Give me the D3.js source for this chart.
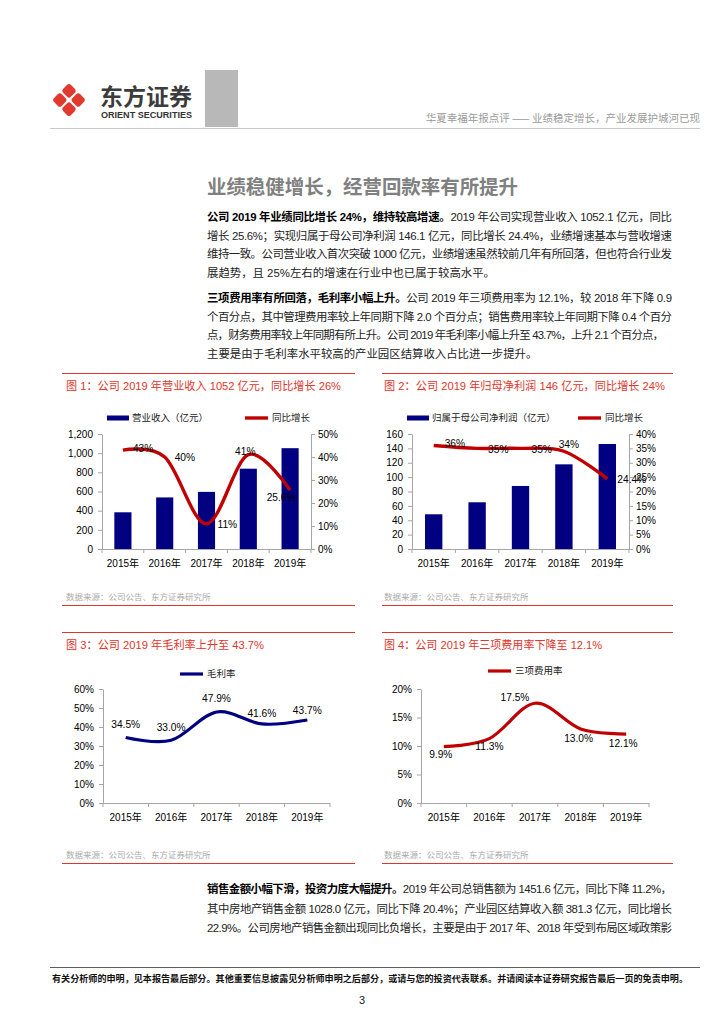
<!DOCTYPE html>
<html><head><meta charset="utf-8">
<script src="https://cdn.jsdelivr.net/npm/d3@7"></script>
<style>
html,body{margin:0;padding:0;background:#fff;}
svg{display:block;}
</style></head><body>
<svg id="page" width="724" height="1024"></svg>
<script>
// ---------- DATA ----------
const years = ["2015年", "2016年", "2017年", "2018年", "2019年"];
const revenue = [383, 538, 596, 838, 1052];
const revenueGrowth = [0.43, 0.40, 0.11, 0.41, 0.256];
const revenueGrowthLabels = ["43%", "40%", "11%", "41%", "25.6%"];
const netProfit = [48.3, 65.0, 87.7, 117.8, 146.1];
const profitGrowth = [0.36, 0.35, 0.35, 0.34, 0.244];
const profitGrowthLabels = ["36%", "35%", "35%", "34%", "24.4%"];
const grossMargin = [0.345, 0.330, 0.479, 0.416, 0.437];
const grossMarginLabels = ["34.5%", "33.0%", "47.9%", "41.6%", "43.7%"];
const expenseRatio = [0.099, 0.113, 0.175, 0.130, 0.121];
const expenseRatioLabels = ["9.9%", "11.3%", "17.5%", "13.0%", "12.1%"];
const revenueTicks = [0, 200, 400, 600, 800, 1000, 1200];
const revenueGrowthTicks = [0, 0.1, 0.2, 0.3, 0.4, 0.5];
const profitTicks = [0, 20, 40, 60, 80, 100, 120, 140, 160];
const profitGrowthTicks = [0, 0.05, 0.10, 0.15, 0.20, 0.25, 0.30, 0.35, 0.40];
const marginTicks = [0, 0.1, 0.2, 0.3, 0.4, 0.5, 0.6];
const expenseTicks = [0, 0.05, 0.10, 0.15, 0.20];

const chartTitles = [
  "图 1：公司 2019 年营业收入 1052 亿元，同比增长 26%",
  "图 2：公司 2019 年归母净利润 146 亿元，同比增长 24%",
  "图 3：公司 2019 年毛利率上升至 43.7%",
  "图 4：公司 2019 年三项费用率下降至 12.1%"
];
const sourceText = "数据来源：公司公告、东方证券研究所";

// ---------- STYLE ----------
const FONT = '"Liberation Sans","Noto Sans CJK SC",sans-serif';
const CJK = '"Noto Sans CJK SC","Liberation Sans",sans-serif';
const RED_T = "#e0352b";
const RED_L = "#c00000";
const NAVY = "#000080";
const AX = "#a6a6a6";

const svg = d3.select("#page");
svg.append("rect").attr("width", 724).attr("height", 1024).attr("fill", "#fff");

// ---------- HEADER ----------
const logo = svg.append("g").attr("transform", "translate(69,100)");
const d = 9.2, s = 11;
[[0, -d], [d, 0], [0, d], [-d, 0]].forEach(p => {
  logo.append("rect").attr("x", -s / 2).attr("y", -s / 2).attr("width", s).attr("height", s)
    .attr("rx", 2.6).attr("fill", "#e03a30")
    .attr("transform", `translate(${p[0]},${p[1]}) rotate(45)`);
});
svg.append("text").attr("x", 100).attr("y", 105).attr("font-family", CJK).attr("font-weight", "bold")
  .attr("font-size", 22.5).attr("fill", "#3c3c3c").attr("textLength", 92).attr("lengthAdjust", "spacingAndGlyphs")
  .text("东方证券");
svg.append("text").attr("x", 101).attr("y", 118).attr("font-family", FONT).attr("font-weight", "bold")
  .attr("font-size", 8.4).attr("fill", "#333").attr("textLength", 91).attr("lengthAdjust", "spacingAndGlyphs")
  .text("ORIENT SECURITIES");
svg.append("rect").attr("x", 205).attr("y", 70).attr("width", 33).attr("height", 57).attr("fill", "#b8b8b8");
svg.append("text").attr("x", 700).attr("y", 122).attr("text-anchor", "end").attr("font-family", CJK)
  .attr("font-size", 10.5).attr("fill", "#9a9a9a").text("华夏幸福年报点评 —— 业绩稳定增长，产业发展护城河已现");
svg.append("line").attr("x1", 50).attr("x2", 700).attr("y1", 128.5).attr("y2", 128.5)
  .attr("stroke", "#c8c8c8").attr("stroke-width", 1);

// ---------- HEADING + BODY ----------
svg.append("text").attr("x", 207).attr("y", 194).attr("font-family", CJK).attr("font-weight", "bold")
  .attr("font-size", 19.5).attr("fill", "#808080").attr("textLength", 311).attr("lengthAdjust", "spacingAndGlyphs")
  .text("业绩稳健增长，经营回款率有所提升");

function bodyLine(y, parts, width) {
  const t = svg.append("text").attr("x", 207).attr("y", y).attr("font-family", FONT)
    .attr("font-size", 11.4).attr("fill", "#222");
  if (width) t.attr("textLength", width).attr("lengthAdjust", "spacing");
  parts.forEach(p => t.append("tspan").attr("font-weight", p.b ? "bold" : "normal")
    .attr("fill", p.b ? "#000" : "#222").text(p.t));
}
const para1 = [
  [{ b: 1, t: "公司 2019 年业绩同比增长 24%，维持较高增速。" }, { t: "2019 年公司实现营业收入 1052.1 亿元，同比" }],
  [{ t: "增长 25.6%；实现归属于母公司净利润 146.1 亿元，同比增长 24.4%，业绩增速基本与营收增速" }],
  [{ t: "维持一致。公司营业收入首次突破 1000 亿元，业绩增速虽然较前几年有所回落，但也符合行业发" }],
  [{ t: "展趋势，且 25%左右的增速在行业中也已属于较高水平。" }]
];
const para2 = [
  [{ b: 1, t: "三项费用率有所回落，毛利率小幅上升。" }, { t: "公司 2019 年三项费用率为 12.1%，较 2018 年下降 0.9" }],
  [{ t: "个百分点，其中管理费用率较上年同期下降 2.0 个百分点；销售费用率较上年同期下降 0.4 个百分" }],
  [{ t: "点，财务费用率较上年同期有所上升。公司 2019 年毛利率小幅上升至 43.7%，上升 2.1 个百分点，" }],
  [{ t: "主要是由于毛利率水平较高的产业园区结算收入占比进一步提升。" }]
];
const para3 = [
  [{ b: 1, t: "销售金额小幅下滑，投资力度大幅提升。" }, { t: "2019 年公司总销售额为 1451.6 亿元，同比下降 11.2%，" }],
  [{ t: "其中房地产销售金额 1028.0 亿元，同比下降 20.4%；产业园区结算收入额 381.3 亿元，同比增长" }],
  [{ t: "22.9%。公司房地产销售金额出现同比负增长，主要是由于 2017 年、2018 年受到布局区域政策影" }]
];
para1.forEach((l, i) => bodyLine(221 + i * 18.5, l, i < 3 ? 465 : null));
para2.forEach((l, i) => bodyLine(302 + i * 18.5, l, i < 2 ? 465 : (i === 2 ? 457 : null)));
para3.forEach((l, i) => bodyLine(893 + i * 19.5, l, 465));

// ---------- FOOTER ----------
svg.append("line").attr("x1", 50).attr("x2", 700).attr("y1", 967.5).attr("y2", 967.5)
  .attr("stroke", "#333").attr("stroke-width", 0.8);
svg.append("text").attr("x", 52).attr("y", 982).attr("font-family", CJK).attr("font-weight", "bold")
  .attr("font-size", 8.6).attr("fill", "#111").attr("textLength", 636).attr("lengthAdjust", "spacingAndGlyphs")
  .text("有关分析师的申明，见本报告最后部分。其他重要信息披露见分析师申明之后部分，或请与您的投资代表联系。并请阅读本证券研究报告最后一页的免责申明。");
svg.append("text").attr("x", 362).attr("y", 1004).attr("text-anchor", "middle").attr("font-family", FONT)
  .attr("font-size", 11).attr("fill", "#222").text("3");

// ---------- CHART FRAMES ----------
function frame(o) {
  svg.append("line").attr("x1", o.rx0).attr("x2", o.rx1).attr("y1", o.top).attr("y2", o.top)
    .attr("stroke", RED_T).attr("stroke-width", 1);
  svg.append("line").attr("x1", o.rx0).attr("x2", o.rx1).attr("y1", o.bot).attr("y2", o.bot)
    .attr("stroke", RED_T).attr("stroke-width", 1);
  svg.append("text").attr("x", o.tx).attr("y", o.top + 16).attr("font-family", FONT).attr("font-size", 11.8)
    .attr("fill", RED_T).attr("textLength", o.tlen).attr("lengthAdjust", "spacingAndGlyphs").text(o.title);
  svg.append("text").attr("x", o.tx).attr("y", o.bot - 6).attr("font-family", CJK).attr("font-size", 8.5)
    .attr("fill", "#aaa").text(sourceText);
}
frame({ rx0: 62, rx1: 355, top: 373.5, bot: 605.5, tx: 66, tlen: 275, title: chartTitles[0] });
frame({ rx0: 382, rx1: 673, top: 373.5, bot: 605.5, tx: 384, tlen: 281, title: chartTitles[1] });
frame({ rx0: 62, rx1: 355, top: 632.5, bot: 863.5, tx: 66, tlen: 198, title: chartTitles[2] });
frame({ rx0: 382, rx1: 673, top: 632.5, bot: 863.5, tx: 384, tlen: 218, title: chartTitles[3] });

// ---------- CHART HELPERS ----------
function styleAxis(g) {
  g.attr("font-family", FONT).attr("font-size", 10);
  g.select(".domain").attr("stroke", AX);
  g.selectAll(".tick line").attr("stroke", AX);
  g.selectAll(".tick text").attr("fill", "#000");
}
function xAxis(g, xb, yb) {
  const [a, b] = xb.range();
  g.append("line").attr("x1", a).attr("x2", b).attr("y1", yb + 0.5).attr("y2", yb + 0.5).attr("stroke", AX);
  const bounds = years.map(y => xb(y)).concat([b]);
  g.selectAll(".xt").data(bounds).join("line").attr("x1", v => v).attr("x2", v => v)
    .attr("y1", yb).attr("y2", yb + 4).attr("stroke", AX);
  g.selectAll(".xl").data(years).join("text").attr("x", v => xb(v) + xb.bandwidth() / 2)
    .attr("y", yb + 18).attr("text-anchor", "middle").attr("font-family", FONT).attr("font-size", 10)
    .attr("fill", "#000").text(v => v);
}
function lineLabels(g, xs, ys, vals, labels, place) {
  g.selectAll(".dl").data(vals).join("text")
    .attr("x", (v, i) => xs(i) + place[i][0]).attr("y", (v, i) => ys(v) + place[i][1] + 3.6)
    .attr("text-anchor", (v, i) => place[i][2]).attr("font-family", FONT).attr("font-size", 10.2)
    .attr("fill", "#000").text((v, i) => labels[i]);
}

function combo(o) {
  const g = svg.append("g");
  const xb = d3.scaleBand().domain(years).range([o.x0, o.x1]);
  const yL = d3.scaleLinear().domain([0, o.lmax]).range([o.yb, o.yt]);
  const yR = d3.scaleLinear().domain([0, o.rmax]).range([o.yb, o.yt]);
  const cx = i => xb(years[i]) + xb.bandwidth() / 2;
  const bw = xb.bandwidth() * o.barRatio;
  g.selectAll(".bar").data(o.bars).join("rect")
    .attr("x", (v, i) => cx(i) - bw / 2).attr("y", v => yL(v))
    .attr("width", bw).attr("height", v => o.yb - yL(v)).attr("fill", NAVY);
  const gl = g.append("g").attr("transform", `translate(${o.x0},0)`)
    .call(d3.axisLeft(yL).tickValues(o.lticks).tickSize(4).tickSizeOuter(0).tickPadding(5).tickFormat(d3.format(",")));
  styleAxis(gl);
  const gr = g.append("g").attr("transform", `translate(${o.x1},0)`)
    .call(d3.axisRight(yR).tickValues(o.rticks).tickSize(4).tickSizeOuter(0).tickPadding(3).tickFormat(d3.format(".0%")));
  styleAxis(gr);
  xAxis(g, xb, o.yb);
  const line = d3.line().x((v, i) => cx(i)).y(v => yR(v)).curve(d3.curveCatmullRom.alpha(0));
  g.append("path").datum(o.line).attr("d", line).attr("fill", "none").attr("stroke", RED_L)
    .attr("stroke-width", 3.4).attr("stroke-linejoin", "round");
  lineLabels(g, cx, yR, o.line, o.labels, o.place);
  // legend
  g.append("rect").attr("x", o.lg[0]).attr("y", o.lgY - 2.5).attr("width", 22).attr("height", 5).attr("fill", NAVY);
  g.append("text").attr("x", o.lg[0] + 25).attr("y", o.lgY + 3.4).attr("font-family", CJK).attr("font-size", 9.5)
    .attr("fill", "#222").text(o.lgText[0]);
  g.append("line").attr("x1", o.lg[1]).attr("x2", o.lg[1] + 23).attr("y1", o.lgY).attr("y2", o.lgY)
    .attr("stroke", RED_L).attr("stroke-width", 3.4);
  g.append("text").attr("x", o.lg[1] + 27).attr("y", o.lgY + 3.4).attr("font-family", CJK).attr("font-size", 9.5)
    .attr("fill", "#222").text(o.lgText[1]);
}

function lineChart(o) {
  const g = svg.append("g");
  const xb = d3.scaleBand().domain(years).range([o.x0, o.x1]);
  const y = d3.scaleLinear().domain([0, o.max]).range([o.yb, o.yt]);
  const cx = i => xb(years[i]) + xb.bandwidth() / 2;
  const gl = g.append("g").attr("transform", `translate(${o.x0},0)`)
    .call(d3.axisLeft(y).tickValues(o.ticks).tickSize(4).tickSizeOuter(0).tickPadding(5).tickFormat(d3.format(".0%")));
  styleAxis(gl);
  xAxis(g, xb, o.yb);
  const line = d3.line().x((v, i) => cx(i)).y(v => y(v)).curve(d3.curveCatmullRom.alpha(0));
  g.append("path").datum(o.values).attr("d", line).attr("fill", "none").attr("stroke", o.color)
    .attr("stroke-width", 3.2).attr("stroke-linejoin", "round");
  lineLabels(g, cx, y, o.values, o.labels, o.place);
  g.append("line").attr("x1", o.lgX).attr("x2", o.lgX + 23).attr("y1", o.lgY).attr("y2", o.lgY)
    .attr("stroke", o.color).attr("stroke-width", 3.2);
  g.append("text").attr("x", o.lgX + 27).attr("y", o.lgY + 3.4).attr("font-family", CJK).attr("font-size", 9.5)
    .attr("fill", "#222").text(o.lgText);
}

// ---------- CHARTS ----------
combo({
  x0: 102, x1: 311, yt: 434, yb: 549, lmax: 1200, rmax: 0.5, barRatio: 0.41,
  bars: revenue, line: revenueGrowth, labels: revenueGrowthLabels,
  lticks: revenueTicks, rticks: revenueGrowthTicks,
  place: [[10, -2, "start"], [10, 0, "start"], [11, 1, "start"], [-3, -3, "middle"], [-9, 7, "middle"]],
  lg: [107, 245], lgY: 418, lgText: ["营业收入（亿元）", "同比增长"]
});
combo({
  x0: 412, x1: 629, yt: 434, yb: 549, lmax: 160, rmax: 0.4, barRatio: 0.40,
  bars: netProfit, line: profitGrowth, labels: profitGrowthLabels,
  lticks: profitTicks, rticks: profitGrowthTicks,
  place: [[11, -2, "start"], [11, 1, "start"], [11, 1, "start"], [5, -7, "middle"], [10, 1, "start"]],
  lg: [407, 578], lgY: 418, lgText: ["归属于母公司净利润（亿元）", "同比增长"]
});
lineChart({
  x0: 103, x1: 330, yt: 689, yb: 803, max: 0.6, ticks: marginTicks, values: grossMargin,
  labels: grossMarginLabels, color: NAVY,
  place: [[0, -13, "middle"], [0, -13, "middle"], [0, -14, "middle"], [0, -11, "middle"], [0, -10, "middle"]],
  lgX: 180, lgY: 674, lgText: "毛利率"
});
lineChart({
  x0: 421, x1: 649, yt: 689, yb: 803, max: 0.2, ticks: expenseTicks, values: expenseRatio,
  labels: expenseRatioLabels, color: RED_L,
  place: [[-3, 8, "middle"], [0, 8, "middle"], [-20, -6, "middle"], [-2, 9, "middle"], [-3, 9, "middle"]],
  lgX: 488, lgY: 671, lgText: "三项费用率"
});
</script>
</body></html>
